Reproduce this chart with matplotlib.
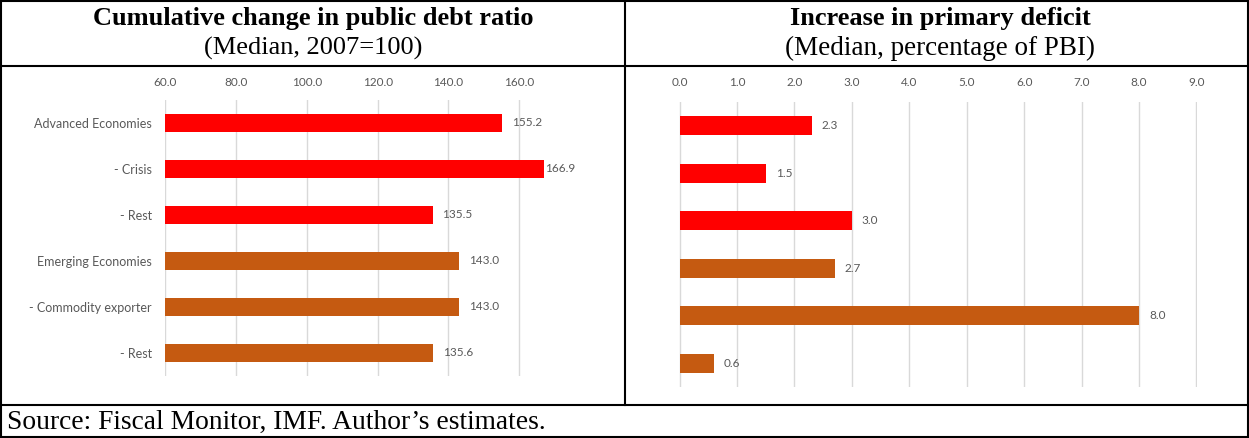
import matplotlib
matplotlib.use("Agg")
import matplotlib.pyplot as plt
from matplotlib.lines import Line2D

# ---- data ----
categories = ["Advanced Economies", "- Crisis", "- Rest",
              "Emerging Economies", "- Commodity exporter", "- Rest"]
debt_ratio = [155.2, 166.9, 135.5, 143.0, 143.0, 135.6]
primary_deficit = [2.3, 1.5, 3.0, 2.7, 8.0, 0.6]
group = ["adv", "adv", "adv", "emg", "emg", "emg"]
left_ticks = [60, 80, 100, 120, 140, 160]
right_ticks = [0, 1, 2, 3, 4, 5, 6, 7, 8, 9]

left_title = "Cumulative change in public debt ratio"
left_sub = "(Median, 2007=100)"
right_title = "Increase in primary deficit"
right_sub = "(Median, percentage of PBI)"
source = "Source: Fiscal Monitor, IMF. Author\u2019s estimates."

colors = {"adv": "#FF0000", "emg": "#C55A11"}
W, H = 1249, 438
fig = plt.figure(figsize=(W / 100, H / 100), dpi=100)

def ax_px(x0, x1, y0, y1):
    return fig.add_axes([x0 / W, 1 - y1 / H, (x1 - x0) / W, (y1 - y0) / H])

tick_font = "Lato"
gray = "#595959"

def draw(ax, vals, ticks, xlim, pad_px, clamp, show_cats, tick_pad):
    n = len(vals)
    ypos = list(range(n))
    cols = [colors[g] for g in group]
    ax.barh(ypos, vals, height=0.39, color=cols, zorder=3)
    ax.set_xlim(*xlim)
    ax.set_ylim(n - 0.5, -0.5)
    ax.set_xticks(ticks)
    ax.set_xticklabels([f"{t:.1f}" for t in ticks])
    ax.xaxis.tick_top()
    ax.tick_params(axis="x", length=0, pad=tick_pad, labelsize=8.5, labelcolor=gray)
    for lab in ax.get_xticklabels():
        lab.set_fontfamily(tick_font)
    ax.grid(axis="x", color="#D9D9D9", linewidth=1, zorder=0)
    for s in ax.spines.values():
        s.set_visible(False)
    if show_cats:
        ax.set_yticks(ypos)
        ax.set_yticklabels(categories)
        ax.tick_params(axis="y", length=0, pad=9.4, labelsize=9, labelcolor=gray)
        for lab in ax.get_yticklabels():
            lab.set_fontfamily(tick_font)
    else:
        ax.set_yticks([])
    for y, v in zip(ypos, vals):
        off = pad_px if v < clamp else 1
        ax.annotate(f"{v:.1f}", (v, y), xytext=(off * 0.72, 0), textcoords="offset points",
                    va="center", ha="left", fontsize=8.5, color=gray, family=tick_font)

ax1 = ax_px(165, 590, 100, 376)
draw(ax1, debt_ratio, left_ticks, (59.9, 180), 10, 165, True, 8.6)
ax2 = ax_px(679, 1197, 102, 387)
draw(ax2, primary_deficit, right_ticks, (-0.01, 9.01), 10, 99, False, 9.8)

# titles
serif = "Liberation Serif"
fs = 19
fig.text(313 / W, 1 - 19 / H, left_title, ha="center", va="center", fontsize=fs,
         fontweight="bold", family=serif)
fig.text(313 / W, 1 - 48 / H, left_sub, ha="center", va="center", fontsize=fs, family=serif)
fig.text(940 / W, 1 - 19 / H, right_title, ha="center", va="center", fontsize=fs,
         fontweight="bold", family=serif)
fig.text(940 / W, 1 - 48 / H, right_sub, ha="center", va="center", fontsize=19.5, family=serif)
fig.text(7 / W, 1 - 422 / H, source, ha="left", va="center", fontsize=19.8, family=serif)

# table borders
def line(x0, y0, x1, y1):
    fig.add_artist(Line2D([x0 / W, x1 / W], [1 - y0 / H, 1 - y1 / H], color="black",
                          linewidth=1.5, solid_capstyle="projecting"))

line(1, 1, 1248, 1)
line(1, 437, 1248, 437)
line(1, 1, 1, 437)
line(1248, 1, 1248, 437)
line(1, 66, 1248, 66)
line(1, 405, 1248, 405)
line(625, 1, 625, 405)

fig.savefig("out.png", dpi=100)
